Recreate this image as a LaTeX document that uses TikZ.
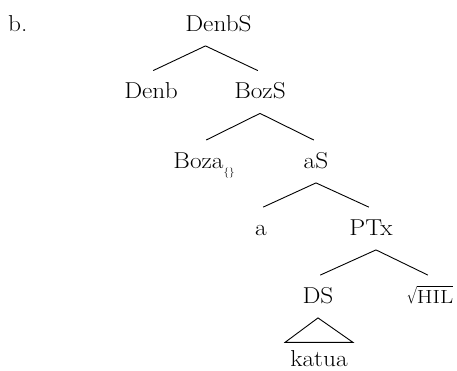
\documentclass[tikz,border=0pt]{standalone}
\usepackage{amsmath}
% tree labels: slightly widened roman
\newcommand{\treetext}[1]{\scalebox{1.1}[1]{#1}}
\begin{document}
\begin{tikzpicture}[x=1pt,y=-1pt,
  lbl/.style={font=\fontsize{23}{28}\selectfont, text height=17pt, text depth=5pt,
              inner xsep=0pt, inner ysep=9.7pt},
  edge/.style={line width=0.9pt, shorten >=2.4pt},
  tri/.style={line width=0.9pt, line join=miter}]
  \useasboundingbox (0,0) rectangle (457,370);
  % example label
  \node[lbl, anchor=west] (ex) at (8,25) {\treetext{b.}};
  % tree nodes
  \node[lbl] (root) at (218.5,25) {\treetext{DenbS}};
  \node[lbl] (denb) at (151,92.5) {\treetext{Denb}};
  \node[lbl] (bozs) at (260,92.5) {\treetext{BozS}};
  \node[lbl] (boza) at (204,162) {\treetext{Boza\raisebox{-7.5pt}{\fontsize{10}{10}\selectfont\{\}}}};
  \node[lbl] (as)   at (316,162) {\treetext{aS}};
  \node[lbl] (a)    at (261,229) {\treetext{a}};
  \node[lbl] (ptx)  at (371,229) {\treetext{PTx}};
  \node[lbl] (ds)   at (318,297) {\treetext{DS}};
  % root sign with overlined capitals
  \node[lbl] (hil)  at (430,297)
    {\raisebox{3.4pt}{\scalebox{0.7}[1]{\fontsize{17}{17}\selectfont$\surd$}}%
     $\overline{\mbox{\scalebox{1.2}[1]{\fontsize{19}{19}\selectfont HIL}}}$};
  \node[lbl, text depth=3pt, inner ysep=7pt, inner xsep=5pt] (katua) at (319,359.5) {\treetext{katua}};
  % branches
  \draw[edge] ([xshift=-13pt]root.south) -- (denb.north);
  \draw[edge] ([xshift=-13pt]root.south) -- (bozs.north);
  \draw[edge] (bozs.south) -- (boza.north);
  \draw[edge] (bozs.south) -- (as.north);
  \draw[edge] (as.south) -- (a.north);
  \draw[edge] (as.south) -- (ptx.north);
  \draw[edge] ([xshift=5pt]ptx.south) -- (ds.north);
  \draw[edge] ([xshift=5pt]ptx.south) -- (hil.north);
  % collapsed subtree
  \draw[tri] (ds.south) -- (katua.north west) -- (katua.north east) -- cycle;
\end{tikzpicture}
\end{document}
